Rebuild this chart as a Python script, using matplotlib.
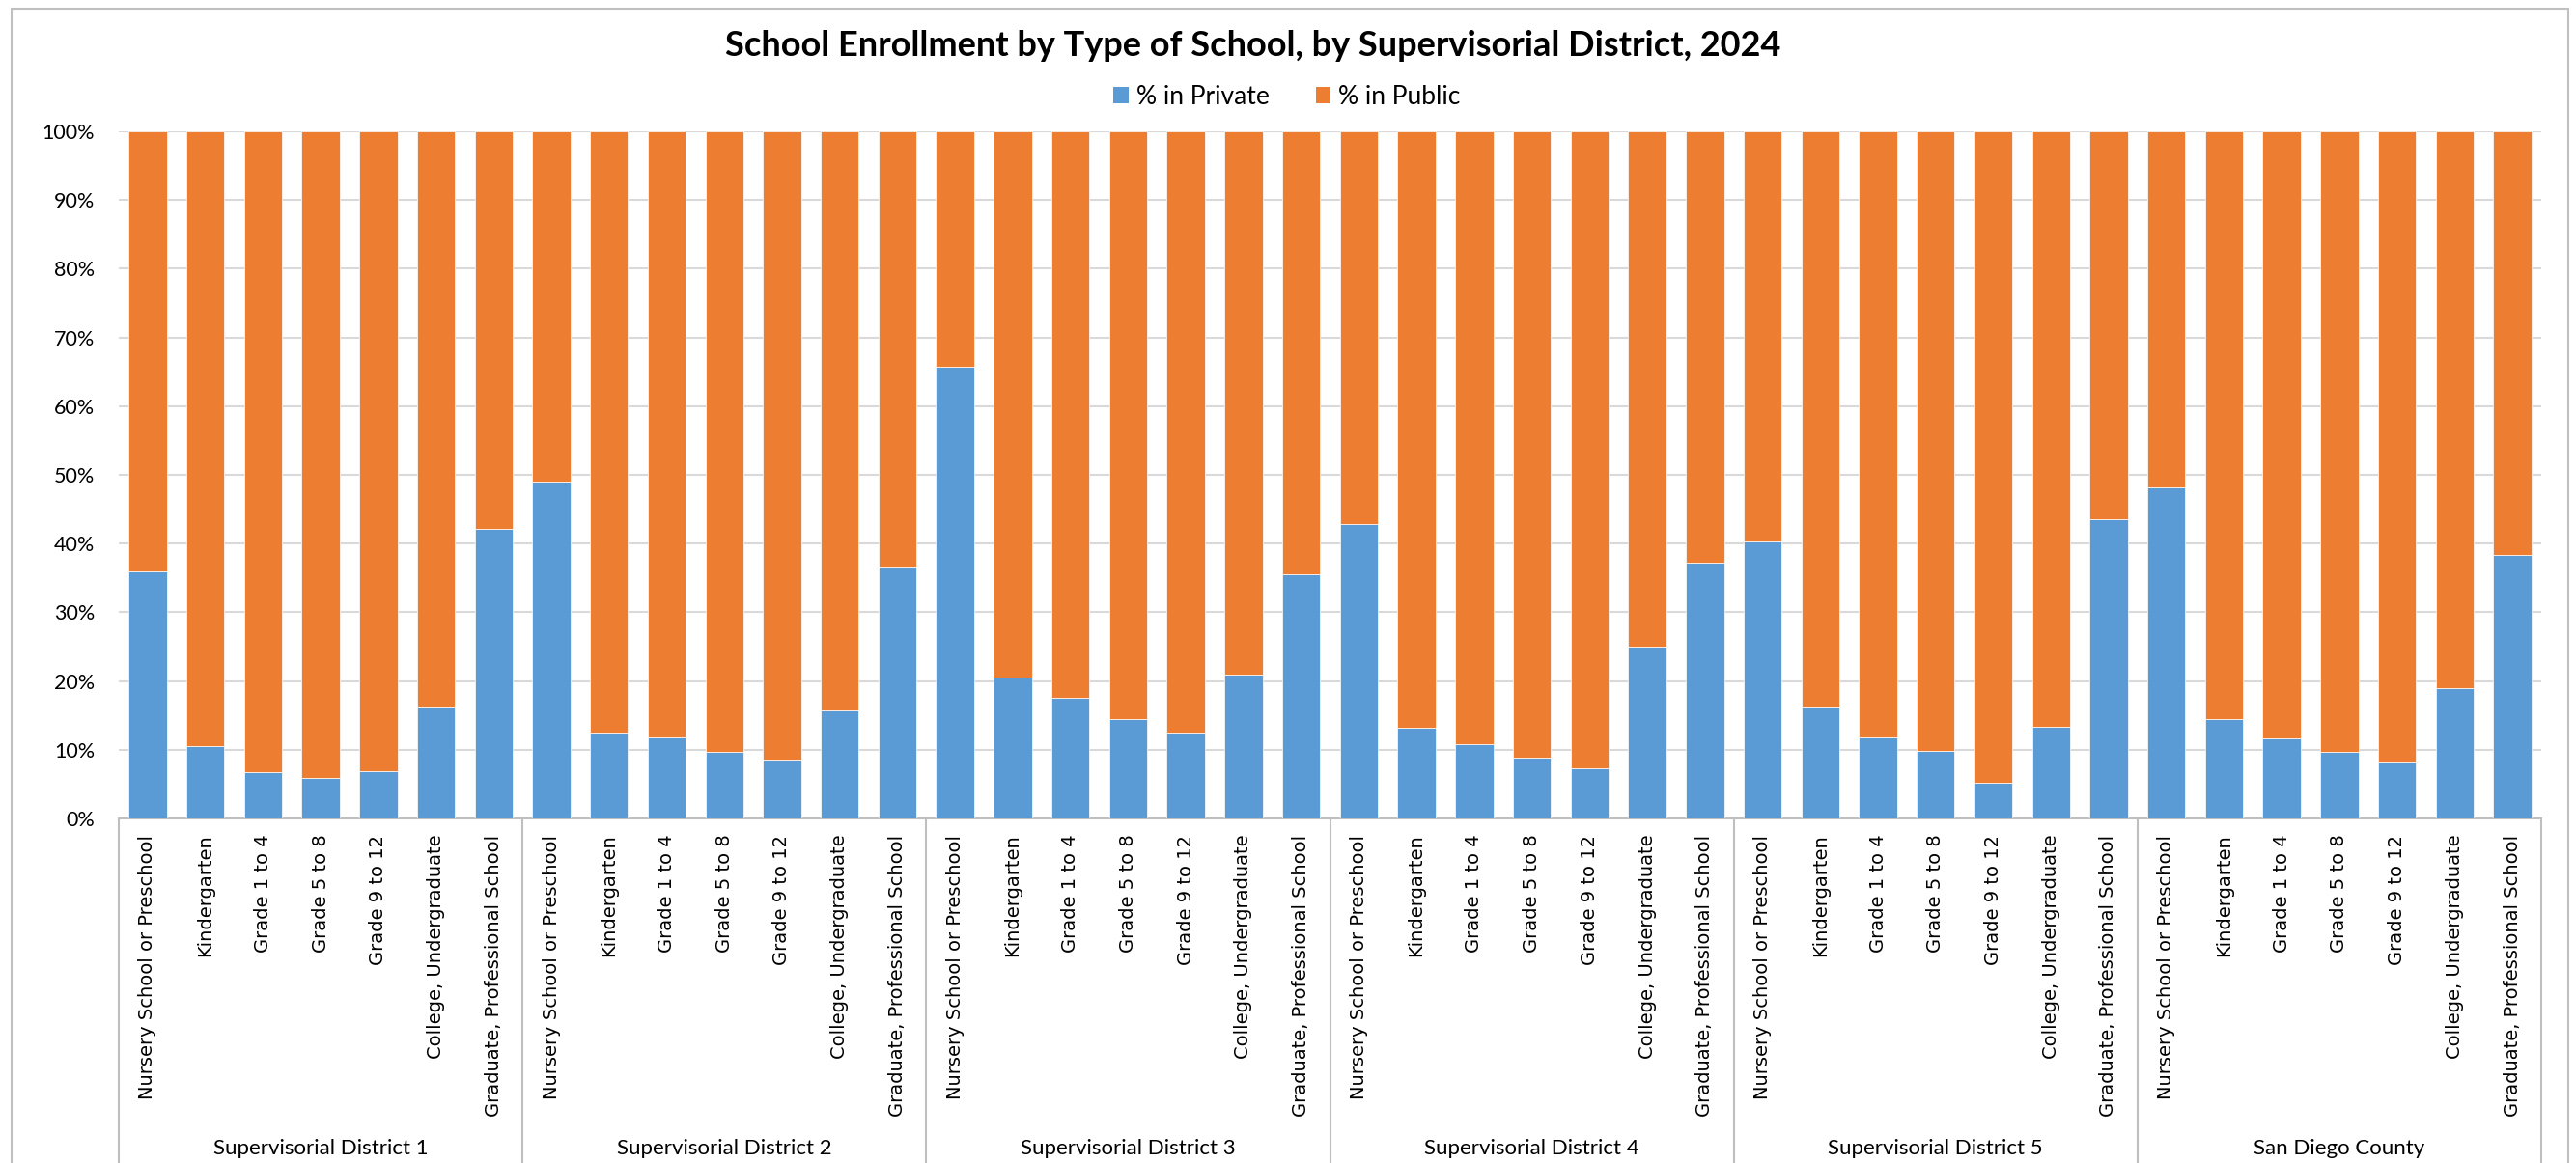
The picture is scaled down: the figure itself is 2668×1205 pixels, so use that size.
# | Imports |----------------------------------------------------------------------------------------------------------|
import numpy as np
import matplotlib
matplotlib.use("Agg")
import matplotlib.pyplot as plt
from matplotlib.patches import Patch, Rectangle
from matplotlib.ticker import PercentFormatter
import matplotlib.transforms as mtransforms
# |--------------------------------------------------------------------------------------------------------------------|

# | Data |-------------------------------------------------------------------------------------------------------------|
school_types: list[str] = [
    "Nursery School or Preschool", "Kindergarten", "Grade 1 to 4", "Grade 5 to 8",
    "Grade 9 to 12", "College, Undergraduate", "Graduate, Professional School",
]
districts: list[str] = [
    "Supervisorial District 1", "Supervisorial District 2", "Supervisorial District 3",
    "Supervisorial District 4", "Supervisorial District 5", "San Diego County",
]

# share of enrollment in private schools, per district, same order as school_types
private_d1: list[float] = [0.359, 0.106, 0.068, 0.059, 0.069, 0.161, 0.422]
private_d2: list[float] = [0.490, 0.125, 0.118, 0.097, 0.086, 0.157, 0.367]
private_d3: list[float] = [0.657, 0.205, 0.175, 0.144, 0.125, 0.209, 0.355]
private_d4: list[float] = [0.429, 0.132, 0.108, 0.089, 0.073, 0.250, 0.372]
private_d5: list[float] = [0.403, 0.161, 0.118, 0.099, 0.052, 0.133, 0.435]
private_county: list[float] = [0.482, 0.145, 0.117, 0.097, 0.081, 0.190, 0.384]

series_labels: list[str] = ["% in Private", "% in Public"]
colors: list[str] = ["#5B9BD5", "#ED7D31"]
title: str = "School Enrollment by Type of School, by Supervisorial District, 2024"
# |--------------------------------------------------------------------------------------------------------------------|

W, H = 2668, 1205
AX_LEFT, AX_RIGHT, AX_TOP, AX_BOTTOM = 123, 2632, 136, 848

plt.rcParams["font.family"] = ["Lato", "DejaVu Sans"]

private: np.ndarray = np.array([private_d1, private_d2, private_d3,
                                private_d4, private_d5, private_county]).ravel()
public: np.ndarray = 1.0 - private
n_types: int = len(school_types)
x: np.ndarray = np.arange(len(private))

fig = plt.figure(figsize=(W / 100, H / 100), dpi=100)
ax = fig.add_axes([AX_LEFT / W, (H - AX_BOTTOM) / H, (AX_RIGHT - AX_LEFT) / W, (AX_BOTTOM - AX_TOP) / H])

ax.bar(x, private, width=0.66, color=colors[0], edgecolor="white", linewidth=0.5, zorder=3)
ax.bar(x, public, width=0.66, bottom=private, color=colors[1], edgecolor="white", linewidth=0.5, zorder=3)

ax.set_xlim(-0.5, len(x) - 0.5)
ax.set_ylim(0, 1)
ax.set_yticks(np.arange(0, 1.01, 0.1))
ax.yaxis.set_major_formatter(PercentFormatter(1.0, decimals=0))
ax.tick_params(axis="y", length=0, pad=18, labelsize=15.5)
ax.yaxis.grid(True, color="#d9d9d9", linewidth=1.5, zorder=0)
ax.set_axisbelow(True)

ax.set_xticks(x)
ax.set_xticklabels(school_types * len(districts), rotation=90, family="DejaVu Sans", fontsize=14)
ax.tick_params(axis="x", length=0, pad=12)

for side in ["left", "right", "top"]:
    ax.spines[side].set_visible(False)
ax.spines["bottom"].set_color("#bfbfbf")
ax.spines["bottom"].set_linewidth(1.5)

# group separators and district names under the category labels
trans = mtransforms.blended_transform_factory(ax.transData, ax.transAxes)
drop: float = (H - AX_BOTTOM) / (AX_BOTTOM - AX_TOP) + 0.05
for g in range(len(districts) + 1):
    xs = g * n_types - 0.5
    ax.plot([xs, xs], [0, -drop], transform=trans, color="#bfbfbf", linewidth=1.5, clip_on=False)
for g, name in enumerate(districts):
    ax.text(g * n_types + (n_types - 1) / 2, -(1190 - AX_BOTTOM) / (AX_BOTTOM - AX_TOP), name,
            transform=trans, ha="center", va="center", fontsize=16)

fig.text(1298 / W, 1 - 48 / H, title, ha="center", va="center", fontsize=26, fontweight="bold")

handles = [Patch(facecolor=c, edgecolor="none") for c in colors]
fig.legend(handles, series_labels, loc="center", bbox_to_anchor=(1333 / W, 1 - 100 / H), ncol=2,
           frameon=False, fontsize=19, handlelength=0.6, handleheight=0.6,
           handletextpad=0.3, columnspacing=1.8)

fig.patches.append(Rectangle((12 / W, -0.1), (2660 - 12) / W, 1.1 - 9 / H, transform=fig.transFigure,
                             fill=False, edgecolor="#c0c0c0", linewidth=1.5))

fig.savefig("out.png", dpi=100)
